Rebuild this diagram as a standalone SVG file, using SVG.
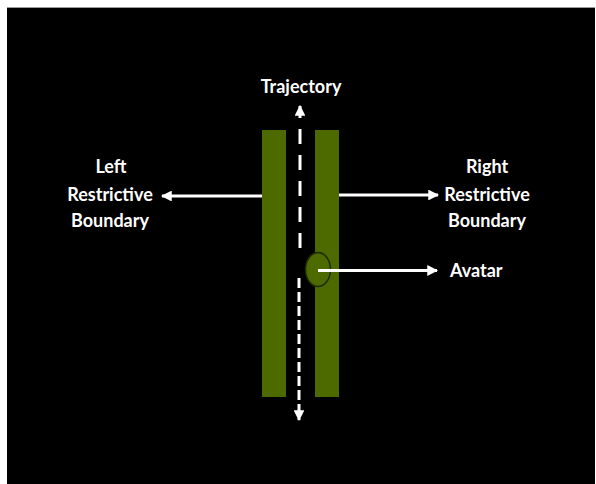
<svg xmlns="http://www.w3.org/2000/svg" width="596" height="484" viewBox="0 0 596 484">
  <style>
    .lbl { font-family: Lato, "Open Sans", "Liberation Sans", sans-serif; font-weight: bold; font-size: 18px; fill: #ffffff; text-anchor: middle; }
    .bar { fill: #4C6A00; }
    .arr { stroke: #ffffff; stroke-width: 3; fill: none; }
  </style>
  <defs>
    <marker id="ah" viewBox="0 0 10 10" refX="9" refY="5" markerWidth="3.6" markerHeight="3.6" orient="auto" markerUnits="strokeWidth">
      <path d="M0,0 L10,5 L0,10 z" fill="#ffffff"/>
    </marker>
  </defs>
  <rect x="0" y="0" width="596" height="484" fill="#ffffff"/>
  <rect x="7" y="8" width="588" height="476" fill="#000000"/>
  <line x1="7" y1="7.5" x2="595" y2="7.5" stroke="#9a9a9a" stroke-width="1"/>

  <g id="left-boundary">
    <rect class="bar" x="262" y="130" width="24" height="267"/>
  </g>
  <g id="right-boundary">
    <rect class="bar" x="315" y="130" width="24" height="267"/>
  </g>
  <g id="avatar">
    <ellipse cx="318" cy="269.5" rx="12.5" ry="17" fill="#4C6A00" stroke="#1e2a00" stroke-width="1.5"/>
  </g>

  <g id="label-trajectory"><text class="lbl" x="301" y="93">Trajectory</text></g>
  <g id="label-left">
    <text class="lbl" x="111" y="173">Left</text>
    <text class="lbl" x="110" y="201">Restrictive</text>
    <text class="lbl" x="110" y="227">Boundary</text>
  </g>
  <g id="label-right">
    <text class="lbl" x="487" y="173">Right</text>
    <text class="lbl" x="487" y="201">Restrictive</text>
    <text class="lbl" x="487" y="227">Boundary</text>
  </g>
  <g id="label-avatar"><text class="lbl" x="450" y="277" style="text-anchor:start">Avatar</text></g>

  <g id="connectors">
    <path class="arr" d="M300,248 L300,106" stroke-dasharray="15 11" marker-end="url(#ah)"/>
    <path class="arr" d="M299,278 L299,420" stroke-dasharray="10 4" marker-end="url(#ah)"/>
    <path class="arr" d="M262,196 L162,196" marker-end="url(#ah)"/>
    <path class="arr" d="M339,195 L438,195" marker-end="url(#ah)"/>
    <path class="arr" d="M318,270.5 L437,270.5" marker-end="url(#ah)"/>
  </g>
</svg>
